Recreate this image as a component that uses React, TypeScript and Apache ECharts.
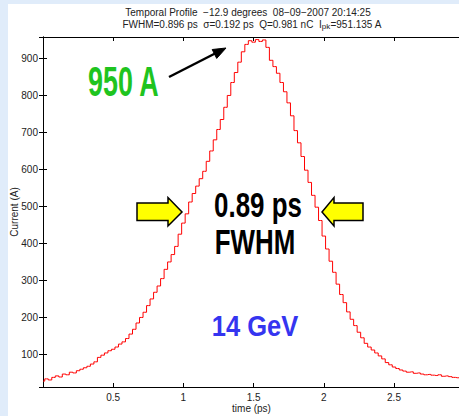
import React, { useEffect, useRef } from "react";
import * as echarts from "echarts";

const TIME_STEP = 0.025; // ps between samples
const currentValues = [
  28, 34, 31, 38, 42, 39, 47, 45, 52, 50,
  56, 60, 64, 68, 74, 80, 92, 98, 104, 110,
  114, 120, 128, 134, 143, 155, 168, 185, 200, 214,
  232, 250, 268, 285, 305, 330, 350, 370, 392, 425,
  455, 480, 512, 535, 555, 575, 595, 622, 650, 680,
  708, 735, 768, 800, 835, 862, 890, 918, 938, 948,
  944, 951, 946, 950, 930, 895, 878, 860, 835, 810,
  780, 745, 705, 672, 635, 598, 565, 530, 498, 462,
  420, 385, 352, 322, 290, 262, 240, 215, 195, 178,
  160, 145, 130, 120, 112, 104, 96, 88, 78, 72,
  66, 62, 58, 55, 52, 53, 49, 50, 47, 45,
  46, 44, 43, 45, 41, 42, 40, 38, 37, 36,
];
const xRange = [0, 2.97];
const yRange = [12, 958];

const titleLine1 = "Temporal Profile  \u221212.9 degrees  08\u221209\u22122007 20:14:25";
const titleLine2 = "{a|FWHM=0.896 ps  \u03c3=0.192 ps  Q=0.981 nC  I}{s|pk}{a|=951.135 A}";

const FONT = "'Liberation Sans', Arial, sans-serif";

export default function App() {
  const ref = useRef<HTMLDivElement>(null);
  useEffect(() => {
    if (!ref.current) return;
    const chart = echarts.init(ref.current, undefined, { renderer: "svg" });
    const data = currentValues.map((v, i) => [i * TIME_STEP, v]);
    const axisLine = { show: true, lineStyle: { color: "#000", width: 1 } };
    const tick = { show: true, inside: true, length: 4, lineStyle: { color: "#000" } };
    const lbl = { color: "#222", fontSize: 10, fontFamily: FONT };
    chart.setOption({
      animation: false,
      backgroundColor: "#ffffff",
      grid: { left: 43, top: 37, width: 417, height: 350, containLabel: false, outerBoundsMode: "none" },
      xAxis: [
        {
          type: "value", min: xRange[0], max: xRange[1], interval: 0.5,
          position: "bottom", axisLine, axisTick: tick,
          axisLabel: { ...lbl, margin: 5, showMinLabel: false, showMaxLabel: false },
          splitLine: { show: false },
          name: "time (ps)", nameLocation: "middle", nameGap: 16, nameMoveOverlap: false,
          nameTextStyle: { color: "#222", fontSize: 10, fontFamily: FONT },
        },
        {
          type: "value", min: xRange[0], max: xRange[1], interval: 0.5,
          position: "top", axisLine, axisTick: tick,
          axisLabel: { show: false }, splitLine: { show: false },
        },
      ],
      yAxis: [
        {
          type: "value", min: yRange[0], max: yRange[1], splitNumber: 9,
          position: "left", axisLine, axisTick: tick,
          axisLabel: { ...lbl, margin: 5, showMinLabel: false, showMaxLabel: false },
          splitLine: { show: false },
          name: "Current (A)", nameLocation: "middle", nameGap: 24, nameMoveOverlap: false,
          nameTextStyle: { color: "#222", fontSize: 10, fontFamily: FONT },
        },
        {
          type: "value", min: yRange[0], max: yRange[1], splitNumber: 9,
          position: "right", axisLine, axisTick: tick,
          axisLabel: { show: false }, splitLine: { show: false },
        },
      ],
      series: [
        {
          type: "line", data, step: "middle", showSymbol: false,
          xAxisIndex: 0, yAxisIndex: 0,
          lineStyle: { color: "#ff0000", width: 1 },
          z: 3,
        },
      ],
      graphic: [
        { type: "rect", shape: { x: 0, y: 0, width: 8, height: 416 }, style: { fill: "#e0ecfa" }, silent: true },
        { type: "rect", shape: { x: 0, y: 0, width: 459, height: 4 }, style: { fill: "#e0ecfa" }, silent: true },
        {
          type: "text", x: 248, y: 12,
          style: { text: titleLine1, fill: "#222", font: `10px ${FONT}`, textAlign: "center", align: "center", textVerticalAlign: "middle", verticalAlign: "middle" },
        },
        {
          type: "text", x: 252, y: 24,
          style: {
            text: titleLine2, fill: "#222", textAlign: "center", align: "center", textVerticalAlign: "middle", verticalAlign: "middle",
            rich: {
              a: { fontSize: 10, fontFamily: FONT, lineHeight: 12, fill: "#222" },
              s: { fontSize: 8, fontFamily: FONT, lineHeight: 4, verticalAlign: "bottom", fill: "#222" },
            },
          },
        },
        {
          type: "text", x: 88, y: 81.5, scaleX: 0.64,
          style: { text: "950 A", fill: "#1fc41f", font: `bold 42px ${FONT}`, textAlign: "left", align: "left", textVerticalAlign: "middle", verticalAlign: "middle" },
        },
        {
          type: "line", shape: { x1: 169, y1: 77, x2: 216, y2: 53 },
          style: { stroke: "#000", lineWidth: 2.5 },
        },
        {
          type: "polygon", shape: { points: [[226, 48], [212.2, 49.5], [216.7, 58.4]] },
          style: { fill: "#000", stroke: "#000", lineWidth: 1 },
        },
        {
          type: "text", x: 258, y: 205.5, scaleX: 0.74,
          style: { text: "0.89 ps", fill: "#000", font: `bold 35px ${FONT}`, textAlign: "center", align: "center", textVerticalAlign: "middle", verticalAlign: "middle" },
        },
        {
          type: "text", x: 255, y: 242, scaleX: 0.74,
          style: { text: "FWHM", fill: "#000", font: `bold 35px ${FONT}`, textAlign: "center", align: "center", textVerticalAlign: "middle", verticalAlign: "middle" },
        },
        {
          type: "text", x: 255, y: 325.5, scaleX: 0.85,
          style: { text: "14 GeV", fill: "#3535f0", font: `bold 30px ${FONT}`, textAlign: "center", align: "center", textVerticalAlign: "middle", verticalAlign: "middle" },
        },
        {
          type: "polygon",
          shape: { points: [[137, 203], [168, 203], [168, 197.5], [182, 212], [168, 226], [168, 220.5], [137, 220.5]] },
          style: { fill: "#ffff00", stroke: "#000", lineWidth: 1.5 },
        },
        {
          type: "polygon",
          shape: { points: [[363, 203], [334, 203], [334, 197.5], [322, 212], [334, 226], [334, 220.5], [363, 220.5]] },
          style: { fill: "#ffff00", stroke: "#000", lineWidth: 1.5 },
        },
      ],
    });
    return () => chart.dispose();
  }, []);
  return (
    <div
      ref={ref}
      style={{ position: "fixed", left: 0, top: 0, width: 459, height: 416 }}
    />
  );
}
